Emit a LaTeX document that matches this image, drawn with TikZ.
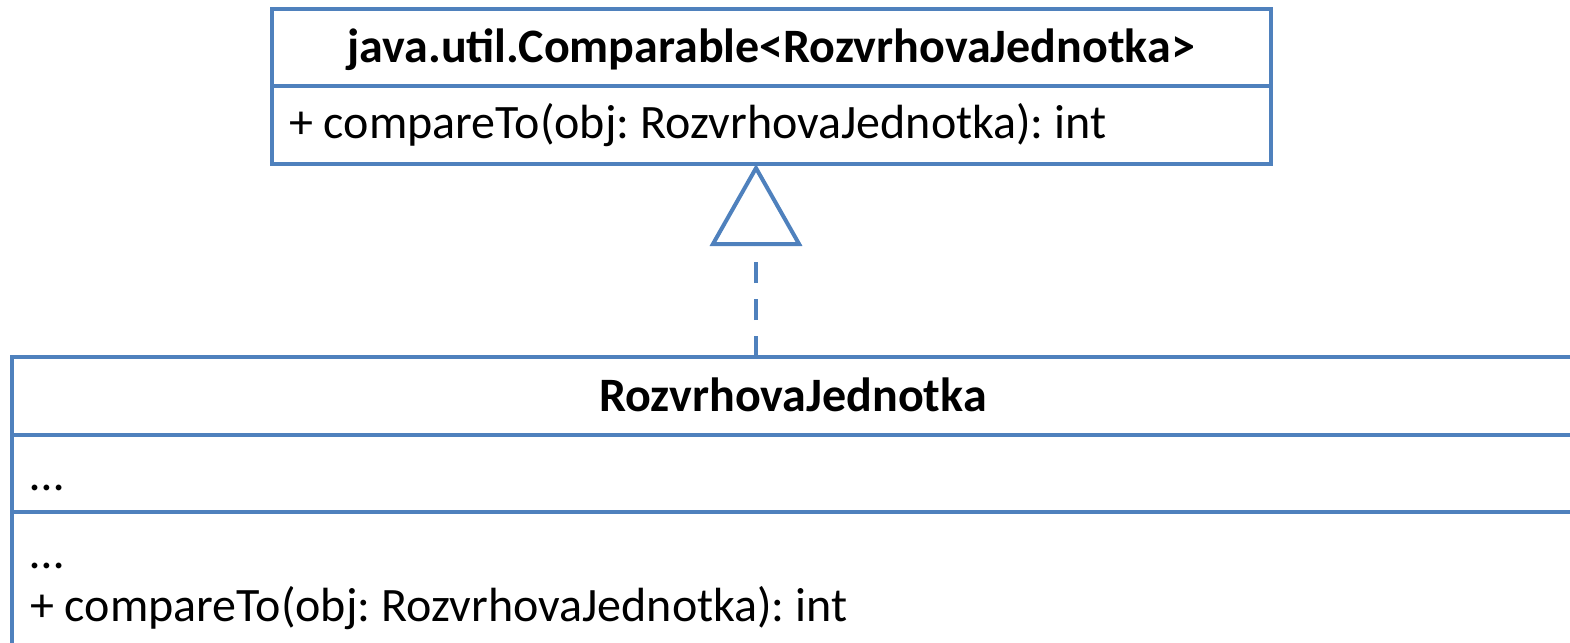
\documentclass[tikz,border=0pt]{standalone}
\usepackage{fontspec}
\setmainfont{Carlito}
\frenchspacing
\usetikzlibrary{arrows.meta,positioning}
\definecolor{umlblue}{RGB}{79,129,189}
\begin{document}
\begin{tikzpicture}
    [
        x = 1pt, y = -1pt,
        compartment/.style = {draw=umlblue, line width=4pt, inner sep=0pt, outer sep=0pt, node distance=0pt},
        classname/.style = {anchor=base, inner sep=0pt, font=\fontsize{48}{58}\selectfont\bfseries},
        member/.style = {anchor=base west, inner sep=0pt, font=\fontsize{48}{58}\selectfont},
        realizes/.style = {draw=umlblue, line width=4pt, dash pattern=on 21pt off 16pt,
            -{Triangle[open, length=82pt, width=92pt]}},
    ]
    \useasboundingbox (0,0) rectangle (1570,642);
    % interface
    \node[compartment, anchor=north west, minimum width=999pt, minimum height=77pt] (ifacehead) at (272,9) {};
    \node[compartment, below=of ifacehead, minimum width=999pt, minimum height=78pt] (ifaceops) {};
    \node[classname] (ifacename) at (771,63) {java.util.Comparable<RozvrhovaJednotka>};
    \node[member] (ifaceop) at (289,138) {+ compareTo(obj: RozvrhovaJednotka): int};
    % class
    \node[compartment, anchor=north west, minimum width=1562pt, minimum height=78pt] (clshead) at (12,357) {};
    \node[compartment, below=of clshead, minimum width=1562pt, minimum height=77pt] (clsattrs) {};
    \node[compartment, below=of clsattrs, minimum width=1562pt, minimum height=160pt] (clsops) {};
    \node[classname] (clsname) at (793,411) {RozvrhovaJednotka};
    \node[member] (clsattr) at (30,490) {…};
    \node[member] (clsop1) at (30,568) {…};
    \node[member] (clsop2) at (30,621) {+ compareTo(obj: RozvrhovaJednotka): int};
    % realization
    \coordinate (tip) at (756,0);
    \draw[realizes] (clshead.north -| tip) -- (ifaceops.south -| tip);
\end{tikzpicture}
\end{document}
